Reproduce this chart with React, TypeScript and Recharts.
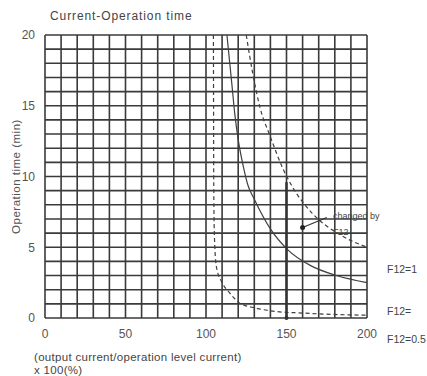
import {
  LineChart,
  Line,
  XAxis,
  YAxis,
  CartesianGrid,
  ReferenceLine,
  ReferenceDot,
} from 'recharts';

// labelled ticks and grid positions
const xLabels = [0, 50, 100, 150, 200];
const yLabels = [0, 5, 10, 15, 20];
const xGrid = [0, 10, 20, 30, 40, 50, 60, 70, 80, 90, 100, 110, 120, 130, 140, 150, 160, 170, 180, 190, 200];
const yGrid = [0, 1, 2, 3, 4, 5, 6, 7, 8, 9, 10, 11, 12, 13, 14, 15, 16, 17, 18, 19, 20];

// F12 = 1 (solid)
const midX = [113, 116, 118, 120, 123, 126, 130, 140, 151, 165, 181, 200];
const midY = [20, 16.6, 14.3, 12.6, 10.8, 9.4, 8.4, 6.3, 4.8, 3.7, 3.0, 2.5];

// upper dashed curve
const highX = [125, 129, 133.5, 140, 148, 153, 166, 183, 200];
const highY = [20, 17.3, 14.9, 12.8, 10.5, 9.4, 7.4, 5.9, 5.0];

// lower dashed curve
const lowX = [104.6, 104.7, 104.8, 105, 105.5, 106.5, 110, 114.5, 121, 131, 144, 160, 180, 200];
const lowY = [20, 15, 10, 7, 5, 3.6, 2.5, 1.8, 1.05, 0.7, 0.45, 0.35, 0.25, 0.2];

const toPoints = (xs: number[], ys: number[]) => xs.map((x, i) => ({ x, y: ys[i] }));

const ink = '#3f3f3f';
const font = '"Liberation Sans", Arial, sans-serif';

export default function App() {
  return (
    <div style={{ position: 'absolute', left: 0, top: 0, width: 427, height: 376, background: '#fff', fontFamily: font }}>
      <div style={{ position: 'absolute', left: 50, top: 9, fontSize: 12, letterSpacing: 0.9, color: '#444', whiteSpace: 'nowrap' }}>
        Current-Operation time
      </div>

      <LineChart width={427} height={376} margin={{ top: 35, right: 60, bottom: 28, left: 0 }}>
        <CartesianGrid stroke="#3a3a3a" strokeWidth={1.6} />
        <XAxis
          type="number"
          dataKey="x"
          domain={[0, 200]}
          ticks={xGrid}
          interval={0}
          tickFormatter={(v: number) => (xLabels.includes(v) ? String(v) : '')}
          axisLine={false}
          tickLine={false}
          tickSize={0}
          tickMargin={11}
          tick={{ fill: '#555', fontSize: 12, fontFamily: font }}
          height={30}
        />
        <YAxis
          type="number"
          dataKey="y"
          domain={[0, 20]}
          ticks={yGrid}
          interval={0}
          tickFormatter={(v: number) => (yLabels.includes(v) ? String(v) : '')}
          axisLine={false}
          tickLine={false}
          tickSize={0}
          tickMargin={10}
          width={45}
          tick={{ fill: '#555', fontSize: 12, fontFamily: font }}
          label={{ value: 'Operation time (min)', angle: -90, position: 'center', dx: -7, fill: '#555', fontSize: 11.5, letterSpacing: 0.5, fontFamily: font }}
        />
        <Line data={toPoints(lowX, lowY)} dataKey="y" type="monotone" stroke={ink} strokeWidth={1.2} strokeDasharray="4 3" dot={false} isAnimationActive={false} />
        <Line data={toPoints(midX, midY)} dataKey="y" type="monotone" stroke={ink} strokeWidth={1.2} dot={false} isAnimationActive={false} />
        <Line data={toPoints(highX, highY)} dataKey="y" type="monotone" stroke={ink} strokeWidth={1.2} strokeDasharray="4 3" dot={false} isAnimationActive={false} />
        <ReferenceLine segment={[{ x: 150, y: 0 }, { x: 150, y: 9.6 }]} stroke="#333" strokeWidth={2.5} />
        <ReferenceDot x={150} y={0} r={2} fill="#333" stroke="none" />
        <ReferenceLine segment={[{ x: 160, y: 6.4 }, { x: 175, y: 7.1 }]} stroke="#333" strokeWidth={1.2} />
        <ReferenceDot x={160} y={6.4} r={2.5} fill="#222" stroke="none" />
        <ReferenceDot x={177} y={7.2} r={1} fill="none" stroke="none" label={{ value: 'changed by', position: 'right', offset: 2, fill: '#444', fontSize: 9, fontFamily: font }} />
        <ReferenceDot x={177} y={6.1} r={1} fill="none" stroke="none" label={{ value: 'F12', position: 'right', offset: 2, fill: '#444', fontSize: 9, fontFamily: font }} />
      </LineChart>

      <div style={{ position: 'absolute', left: 387, top: 263, fontSize: 10.5, color: '#444', whiteSpace: 'nowrap' }}>F12=1</div>
      <div style={{ position: 'absolute', left: 387, top: 305, fontSize: 10.5, color: '#444', whiteSpace: 'nowrap' }}>F12=</div>
      <div style={{ position: 'absolute', left: 387, top: 333, fontSize: 10.5, color: '#444', whiteSpace: 'nowrap', width: 40, overflow: 'hidden' }}>F12=0.5</div>

      <div style={{ position: 'absolute', left: 34, top: 351, fontSize: 11.5, lineHeight: '12px', letterSpacing: 0.3, color: '#444', whiteSpace: 'nowrap' }}>
        (output current/operation level current)
      </div>
      <div style={{ position: 'absolute', left: 34, top: 364, fontSize: 11.5, lineHeight: '12px', letterSpacing: 0.3, color: '#444', whiteSpace: 'nowrap' }}>x 100(%)</div>
    </div>
  );
}
